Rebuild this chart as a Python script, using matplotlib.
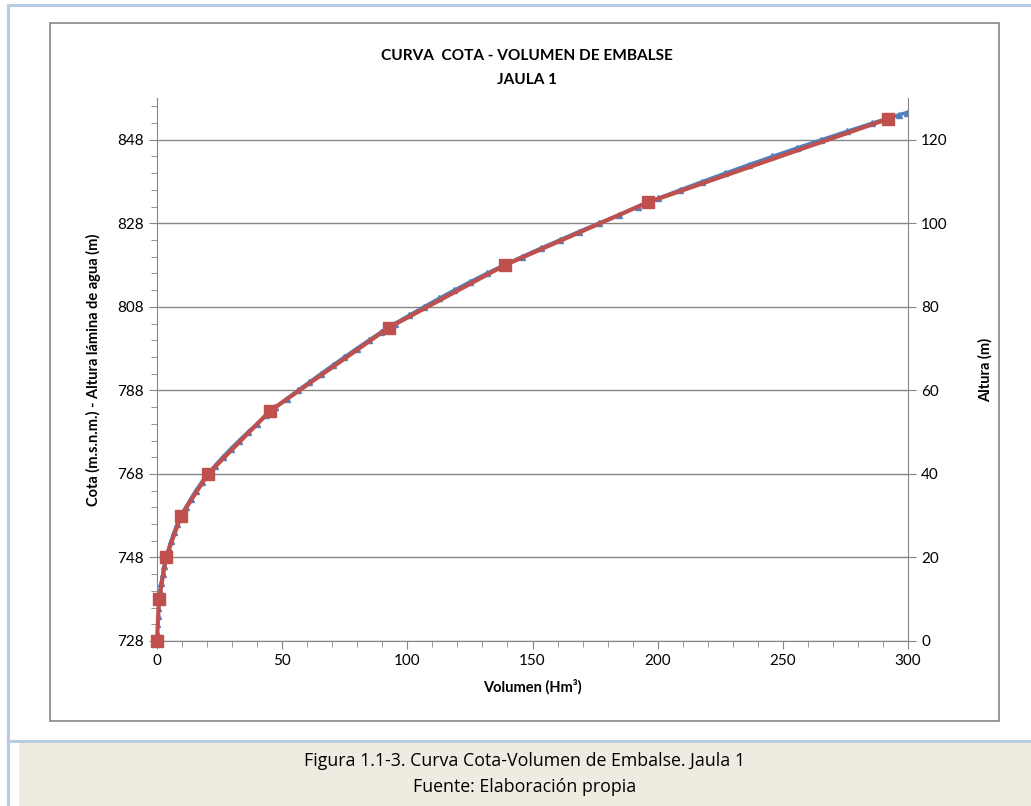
import matplotlib
matplotlib.use("Agg")
import matplotlib.pyplot as plt
from matplotlib.patches import Rectangle
from matplotlib.lines import Line2D
from matplotlib.ticker import MultipleLocator, FixedLocator

# curva cota-volumen (serie densa, azul)
alt_curva = [0, 2, 4, 6, 8, 10, 12, 14, 16, 18, 20, 22, 24, 26, 28, 30, 32, 34, 36, 38,
             40, 42, 44, 46, 48, 50, 52, 54, 56, 58, 60, 62, 64, 66, 68, 70, 72, 74, 76, 78,
             80, 82, 84, 86, 88, 90, 92, 94, 96, 98, 100, 102, 104, 106, 108, 110, 112, 114,
             116, 118, 120, 122, 124, 126, 126.5]
vol_curva = [0, 0.03, 0.12, 0.28, 0.5, 0.8, 1.2, 1.7, 2.3, 2.9, 3.6, 4.6, 5.6, 6.8, 8.1, 9.6,
             11.5, 13.4, 15.5, 17.8, 20.4, 23.2, 26.2, 29.4, 32.8, 36.3, 40.0, 43.7, 47.3,
             51.8, 56.3, 60.9, 65.5, 70.2, 74.9, 79.7, 84.6, 89.6, 95.0, 100.8, 106.6, 112.6,
             118.8, 125.1, 131.7, 138.6, 145.8, 153.2, 160.8, 168.5, 176.4, 184.5, 192.0,
             200.3, 209.0, 217.9, 227.0, 236.3, 245.8, 255.5, 265.4, 275.5, 285.8, 296.5, 299.5]

# puntos de la tabla (serie roja)
alt_tabla = [0, 10, 20, 30, 40, 55, 75, 90, 105, 125]
vol_tabla = [0, 0.8, 3.6, 9.6, 20.4, 45, 92.5, 139, 196, 292]

cota_base = 728
altura_max = 130

azul = "#4f81bd"
rojo = "#c0504d"
gris = "#868686"
fuente = ["Lato", "DejaVu Sans"]

fig = plt.figure(figsize=(10.31, 8.06), dpi=100)

# marco exterior y pie de figura (detras de los ejes)
fig.add_artist(Rectangle((19 / 1031, 0), 1, 1 - 743 / 806, facecolor="#eeece1",
                         edgecolor="none", transform=fig.transFigure, zorder=-3))
fig.add_artist(Rectangle((50 / 1031, 1 - 721 / 806), 949 / 1031, 698 / 806, facecolor="white",
                         edgecolor=gris, lw=1.2, transform=fig.transFigure, zorder=-3))
for xs, ys in [([8, 8], [806, 5]), ([8, 1031], [5, 5]), ([8, 1031], [741, 741])]:
    fig.add_artist(Line2D([x / 1031 for x in xs], [1 - y / 806 for y in ys],
                          color="#b8cce4", lw=2.2, transform=fig.transFigure, zorder=-2))

fig.text(525 / 1031, 1 - 761 / 806, "Figura 1.1-3. Curva Cota-Volumen de Embalse. Jaula 1",
         ha="center", va="center", fontsize=12.8, family=["Open Sans", "DejaVu Sans"])
fig.text(525 / 1031, 1 - 787 / 806, "Fuente: Elaboración propia",
         ha="center", va="center", fontsize=12.8, family=["Open Sans", "DejaVu Sans"])

ax = fig.add_axes([157 / 1031, 1 - 641 / 806, 751 / 1031, 543 / 806])
ax.patch.set_alpha(0)
cota_curva = [cota_base + a for a in alt_curva]
cota_tabla = [cota_base + a for a in alt_tabla]

ax.plot(vol_curva, cota_curva, color=azul, lw=2.5, marker="^", ms=4, zorder=3, clip_on=True)
ax.plot(vol_tabla, cota_tabla, color=rojo, lw=3, marker="s", ms=8.5, zorder=4, clip_on=False)

ax.set_xlim(0, 300)
ax.set_ylim(cota_base, cota_base + altura_max)
ax.xaxis.set_major_locator(MultipleLocator(50))
ax.xaxis.set_minor_locator(MultipleLocator(10))
ax.yaxis.set_major_locator(FixedLocator(range(cota_base, cota_base + altura_max + 1, 20)))
ax.yaxis.set_minor_locator(FixedLocator(range(cota_base, cota_base + altura_max + 1, 4)))
ax.grid(axis="y", which="major", color=gris, lw=1)
ax.set_axisbelow(True)
for s in ["top", "right"]:
    ax.spines[s].set_visible(False)
for s in ["left", "bottom"]:
    ax.spines[s].set_color(gris)
ax.tick_params(which="both", direction="out", color=gris, labelsize=11)
ax.tick_params(which="major", length=6)
ax.tick_params(which="minor", length=4)
for lab in ax.get_xticklabels() + ax.get_yticklabels():
    lab.set_family(fuente)

ax2 = ax.twinx()
ax2.set_ylim(0, altura_max)
ax2.yaxis.set_major_locator(MultipleLocator(20))
for s in ["top", "left", "bottom"]:
    ax2.spines[s].set_visible(False)
ax2.spines["right"].set_color(gris)
ax2.tick_params(direction="out", color=gris, length=6, labelsize=11)
for lab in ax2.get_yticklabels():
    lab.set_family(fuente)

ax.set_xlabel("Volumen (Hm³)", fontsize=10.5, fontweight="bold", family=fuente, labelpad=8)
ax.set_ylabel("Cota (m.s.n.m.) - Altura lámina de agua (m)", fontsize=10.5,
              fontweight="bold", family=fuente, labelpad=12)
ax2.set_ylabel("Altura (m)", fontsize=10.5, fontweight="bold", family=fuente, labelpad=22)

fig.text(527 / 1031, 1 - 56 / 806, "CURVA  COTA - VOLUMEN DE EMBALSE", ha="center",
         va="center", fontsize=11.1, fontweight="bold", family=fuente)
fig.text(527 / 1031, 1 - 80 / 806, "JAULA 1", ha="center", va="center", fontsize=11.1,
         fontweight="bold", family=fuente)

fig.savefig("out.png", dpi=100)
